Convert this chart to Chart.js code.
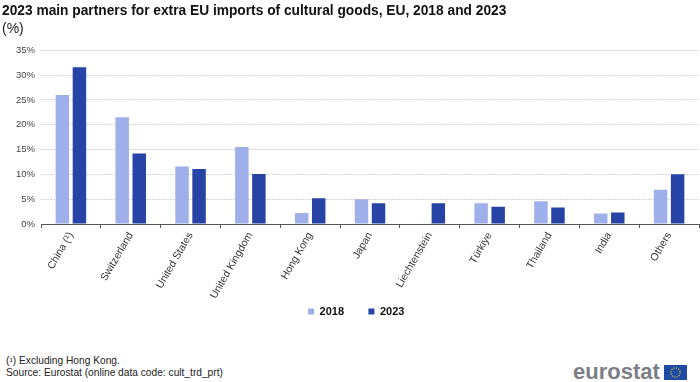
<!DOCTYPE html>
<html>
<head>
<meta charset="UTF-8">
<title>Extra EU imports of cultural goods</title>
<script src="https://cdn.jsdelivr.net/npm/chart.js"></script>
<style>
  html, body { margin: 0; padding: 0; background: #fff; }
  body { width: 700px; height: 382px; position: relative; overflow: hidden; font-family: "Liberation Sans", sans-serif; }
  #wrap { position: absolute; left: 0; top: 0; width: 700px; height: 327px; }
  .note { position: absolute; left: 6px; top: 355px; font-size: 10.2px; line-height: 12px; color: #222; }
  .logo { position: absolute; left: 573px; top: 361px; font-size: 22px; line-height: 22px; font-weight: bold; color: #7b7f85; }
  .flag { position: absolute; left: 664px; top: 365px; }
</style>
</head>
<body>
<div id="wrap"><canvas id="chart" role="img" aria-label="Bar chart of main partners for extra EU imports of cultural goods"></canvas></div>
<div class="note">(¹) Excluding Hong Kong.<br>Source: Eurostat (online data code: cult_trd_prt)</div>
<div class="logo">eurostat</div>
<svg class="flag" width="23" height="15" viewBox="0 0 23 15">
  <rect width="23" height="15" fill="#1f4ba5"/>
  <circle cx="11.5" cy="7.5" r="4.6" fill="none" stroke="#d9b93b" stroke-width="1.3" stroke-dasharray="1.1 1.3"/>
</svg>
<script>
const categories = ['China (¹)', 'Switzerland', 'United States', 'United Kingdom', 'Hong Kong', 'Japan', 'Liechtenstein', 'Türkiye', 'Thailand', 'India', 'Others'];
const values2018 = [26.0, 21.5, 11.6, 15.5, 2.2, 5.0, null, 4.2, 4.6, 2.1, 6.9];
const values2023 = [31.6, 14.2, 11.1, 10.1, 5.2, 4.2, 4.2, 3.5, 3.3, 2.3, 10.0];

const FONT = '"Liberation Sans", sans-serif';

// legend padding also grows its height, so spread the items with trailing spaces instead
const legendGaps = ['\u00a0'.repeat(6), '\u00a0'.repeat(9)];

new Chart(document.getElementById('chart'), {
  type: 'bar',
  data: {
    labels: categories,
    datasets: [
      { label: '2018', data: values2018, backgroundColor: '#9fafe9', categoryPercentage: 0.57, barPercentage: 0.79 },
      { label: '2023', data: values2023, backgroundColor: '#2743a5', categoryPercentage: 0.57, barPercentage: 0.79 }
    ]
  },
  options: {
    responsive: true,
    maintainAspectRatio: false,
    animation: false,
    layout: { padding: { left: 2, right: 1, top: 0, bottom: 0 } },
    plugins: {
      title: {
        display: true,
        text: '2023 main partners for extra EU imports of cultural goods, EU, 2018 and 2023',
        align: 'start',
        color: '#111',
        font: { family: FONT, size: 13.75, weight: 'bold' },
        padding: { top: 3, bottom: 1 }
      },
      subtitle: {
        display: true,
        text: '(%)',
        align: 'start',
        color: '#222',
        font: { family: FONT, size: 14 },
        padding: { bottom: 13 }
      },
      legend: {
        position: 'bottom',
        fullSize: false,
        labels: {
          boxWidth: 6,
          boxHeight: 6,
          padding: 6,
          color: '#111',
          font: { family: FONT, size: 11, weight: 'bold' },
          generateLabels(chart) {
            return Chart.defaults.plugins.legend.labels.generateLabels(chart)
              .map((item, i) => ({ ...item, text: item.text + legendGaps[i] }));
          }
        }
      },
      tooltip: { enabled: false }
    },
    scales: {
      x: {
        grid: { drawOnChartArea: false, drawTicks: true, tickLength: 4, color: '#555' },
        border: { color: '#555' },
        ticks: {
          color: '#333',
          font: { family: FONT, size: 10.5 },
          padding: 2,
          maxRotation: 60,
          minRotation: 60,
          autoSkip: false
        },
        afterFit(scale) { scale.height = 76; }
      },
      y: {
        min: 0,
        max: 35,
        ticks: {
          stepSize: 5,
          padding: 6,
          color: '#444',
          font: { family: FONT, size: 9.5 },
          callback: v => v + '%'
        },
        grid: { color: '#d4d4d4', tickLength: 0 },
        border: { display: false, dash: [2, 1] },
        afterFit(scale) { scale.width = 39; }
      }
    }
  }
});
</script>
</body>
</html>
